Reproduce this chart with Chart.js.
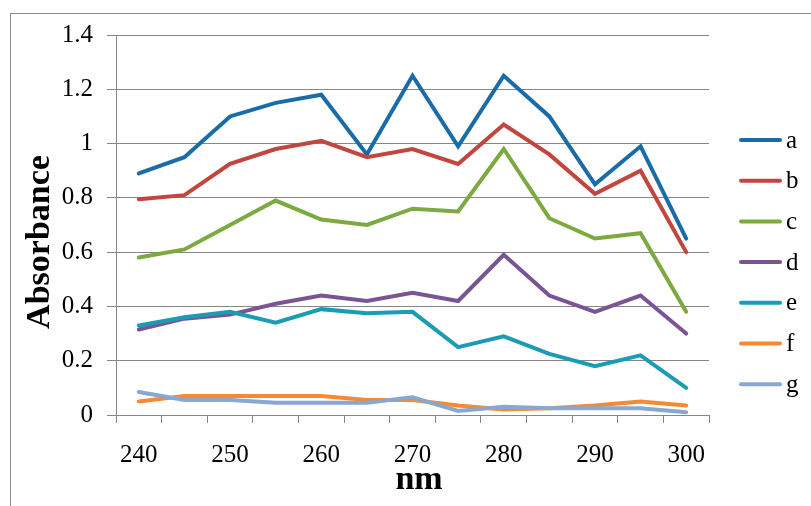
<!DOCTYPE html>
<html>
<head>
<meta charset="utf-8">
<script src="https://cdn.jsdelivr.net/npm/chart.js@4"></script>
<style>
  html, body { margin: 0; padding: 0; background: #fff; }
  #wrap { width: 811px; height: 506px; }
</style>
</head>
<body>
<div id="wrap"><canvas id="chart" width="811" height="506"></canvas></div>
<script>
// wavelengths (nm)
const wavelengths = [240, 245, 250, 255, 260, 265, 270, 275, 280, 285, 290, 295, 300];

// absorbance per sample
const seriesA = [0.89, 0.95, 1.10, 1.15, 1.18, 0.96, 1.25, 0.99, 1.25, 1.10, 0.85, 0.99, 0.65];
const seriesB = [0.795, 0.81, 0.925, 0.98, 1.01, 0.95, 0.98, 0.925, 1.07, 0.96, 0.815, 0.90, 0.60];
const seriesC = [0.58, 0.61, 0.70, 0.79, 0.72, 0.70, 0.76, 0.75, 0.98, 0.725, 0.65, 0.67, 0.38];
const seriesD = [0.315, 0.355, 0.37, 0.41, 0.44, 0.42, 0.45, 0.42, 0.59, 0.44, 0.38, 0.44, 0.30];
const seriesE = [0.33, 0.36, 0.38, 0.34, 0.39, 0.375, 0.38, 0.25, 0.29, 0.225, 0.18, 0.22, 0.10];
const seriesF = [0.05, 0.07, 0.07, 0.07, 0.07, 0.055, 0.055, 0.035, 0.02, 0.025, 0.035, 0.05, 0.035];
const seriesG = [0.085, 0.055, 0.055, 0.045, 0.045, 0.045, 0.065, 0.015, 0.03, 0.025, 0.025, 0.025, 0.01];

const seriesNames = ['a', 'b', 'c', 'd', 'e', 'f', 'g'];
const seriesData = [seriesA, seriesB, seriesC, seriesD, seriesE, seriesF, seriesG];
const seriesColors = ['#1A6CA8', '#C0463F', '#7CAA40', '#7A5596', '#1B9CB4', '#F58A33', '#88A8D2'];

const yTicks = [0, 0.2, 0.4, 0.6, 0.8, 1, 1.2, 1.4];

const FONT = '"Liberation Serif", "Times New Roman", serif';
const GREY = '#878787';

// outer frame, axis titles, legend
const decor = {
  id: 'decor',
  beforeDraw(chart) {
    const ctx = chart.ctx;
    ctx.save();
    ctx.strokeStyle = '#8c8c8c';
    ctx.lineWidth = 1;
    ctx.strokeRect(10.5, 13.5, 900, 600);
    ctx.restore();
  },
  afterDraw(chart) {
    const ctx = chart.ctx;
    ctx.save();
    ctx.fillStyle = '#000';
    ctx.font = 'bold 34px ' + FONT;
    ctx.textAlign = 'center';
    ctx.textBaseline = 'middle';
    ctx.fillText('nm', 419, 480);
    ctx.translate(40, 242);
    ctx.rotate(-Math.PI / 2);
    ctx.fillText('Absorbance', 0, 0);
    ctx.restore();

    ctx.save();
    ctx.font = '25px ' + FONT;
    ctx.textAlign = 'left';
    ctx.textBaseline = 'middle';
    chart.data.datasets.forEach((ds, i) => {
      const y = 140 + i * 40.7;
      ctx.strokeStyle = ds.borderColor;
      ctx.lineWidth = 4;
      ctx.lineCap = 'round';
      ctx.beginPath();
      ctx.moveTo(741, y);
      ctx.lineTo(780, y);
      ctx.stroke();
      ctx.fillStyle = '#000';
      ctx.fillText(ds.label, 786, y + 1);
    });
    ctx.restore();
  }
};

const datasets = seriesNames.map((name, i) => ({
  label: name,
  data: seriesData[i],
  borderColor: seriesColors[i],
  backgroundColor: seriesColors[i],
  borderWidth: 4,
  borderCapStyle: 'round',
  borderJoinStyle: 'miter',
  pointRadius: 0,
  tension: 0,
  order: -i
}));

new Chart(document.getElementById('chart'), {
  type: 'line',
  data: { labels: wavelengths, datasets },
  plugins: [decor],
  options: {
    responsive: false,
    animation: false,
    layout: { padding: { left: 0, top: 35, right: 102, bottom: 0 } },
    plugins: { legend: { display: false }, tooltip: { enabled: false } },
    scales: {
      x: {
        type: 'category',
        offset: true,
        afterFit(scale) { scale.height = 91; },
        grid: { offset: true, drawOnChartArea: false, drawTicks: true, tickLength: 8, color: GREY, lineWidth: 1 },
        border: { color: GREY, width: 1 },
        ticks: {
          autoSkip: false,
          maxRotation: 0,
          padding: 17,
          color: '#000',
          font: { family: FONT, size: 25 },
          callback(value, index) { return index % 2 === 0 ? wavelengths[index] : ''; }
        }
      },
      y: {
        min: 0,
        max: 1.4,
        afterFit(scale) { scale.width = 116; },
        afterBuildTicks(scale) { scale.ticks = yTicks.map(v => ({ value: v })); },
        grid: { color: GREY, lineWidth: 1, tickLength: 9 },
        border: { color: GREY, width: 1 },
        ticks: {
          padding: 14,
          color: '#000',
          font: { family: FONT, size: 25 },
          callback(value) { return String(Math.round(value * 10) / 10); }
        }
      }
    }
  }
});
</script>
</body>
</html>
